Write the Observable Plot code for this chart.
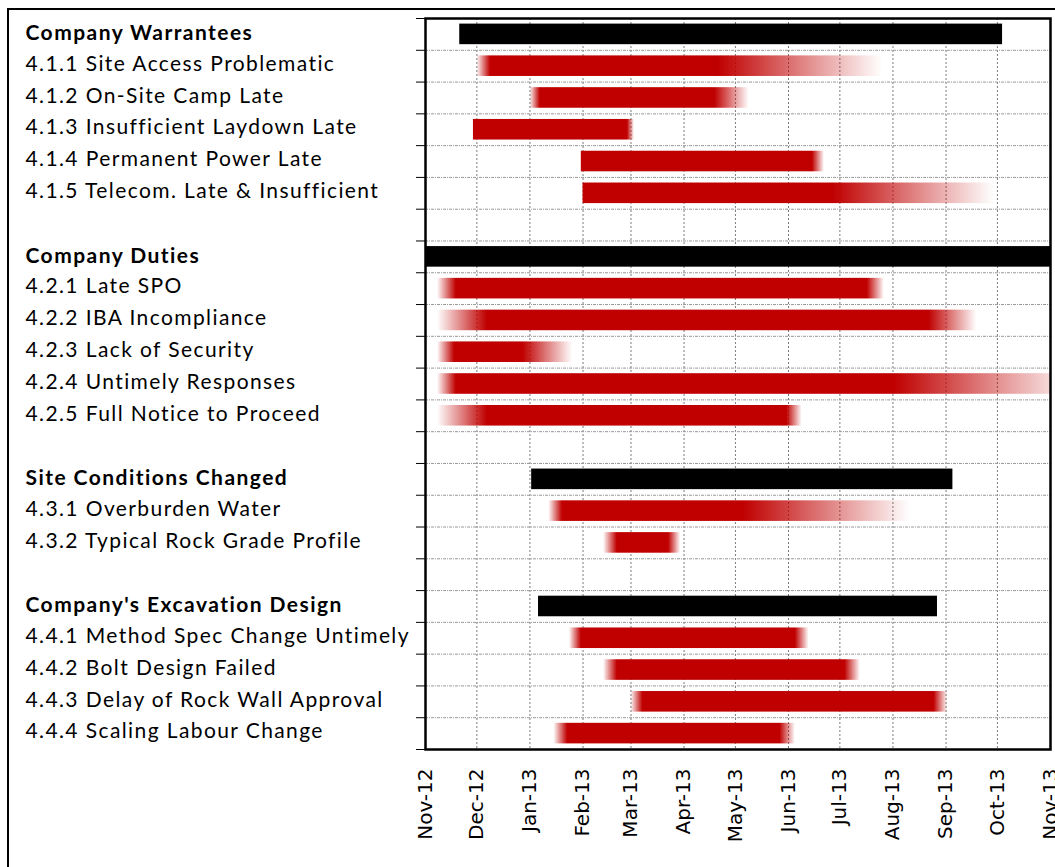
<!DOCTYPE html>
<html>
<head>
<meta charset="utf-8">
<script src="https://cdn.jsdelivr.net/npm/d3@7"></script>
<script src="https://cdn.jsdelivr.net/npm/@observablehq/plot@0.6"></script>
<style>
  html, body { margin: 0; padding: 0; background: #fff; overflow: hidden; }
  #wrap { position: relative; width: 1055px; height: 867px; overflow: hidden; }
  #border { position: absolute; left: 7px; top: 8px; width: 1100px; height: 900px; border: 2px solid #000; pointer-events: none; }
  #chart svg { display: block; background: none; }
  /* row labels are set a little loose, like the spreadsheet's */
  #chart svg g[font-family="Lato"] text { letter-spacing: 1.4px; }
  #chart svg g[font-family="Lato"][font-weight="bold"] text { letter-spacing: 1.45px; }
</style>
</head>
<body>
<div id="wrap"><div id="chart"></div><div id="border"></div></div>
<script>
// Schedule rows, top to bottom ("" = spacer row)
const rows = [
  "Company Warrantees",
  "4.1.1 Site Access Problematic",
  "4.1.2 On-Site Camp Late",
  "4.1.3 Insufficient Laydown Late",
  "4.1.4 Permanent Power Late",
  "4.1.5 Telecom. Late & Insufficient",
  "",
  "Company Duties",
  "4.2.1 Late SPO",
  "4.2.2 IBA Incompliance",
  "4.2.3 Lack of Security",
  "4.2.4 Untimely Responses",
  "4.2.5 Full Notice to Proceed",
  "",
  "Site Conditions Changed",
  "4.3.1 Overburden Water",
  "4.3.2 Typical Rock Grade Profile",
  "",
  "Company's Excavation Design",
  "4.4.1 Method Spec Change Untimely",
  "4.4.2 Bolt Design Failed",
  "4.4.3 Delay of Rock Wall Approval",
  "4.4.4 Scaling Labour Change"
];

// Summary (black) bars for each heading
const groups = ["Company Warrantees", "Company Duties", "Site Conditions Changed", "Company's Excavation Design"];
const groupStart = ["2012-11-21", "2012-11-01", "2013-01-02", "2013-01-06"];
const groupEnd   = ["2013-10-04", "2013-11-01", "2013-09-05", "2013-08-27"];

// Issue (red) bars: fade-in start, full-strength from, full-strength until, fade-out end
const issues = [
  "4.1.1 Site Access Problematic", "4.1.2 On-Site Camp Late", "4.1.3 Insufficient Laydown Late",
  "4.1.4 Permanent Power Late", "4.1.5 Telecom. Late & Insufficient",
  "4.2.1 Late SPO", "4.2.2 IBA Incompliance", "4.2.3 Lack of Security",
  "4.2.4 Untimely Responses", "4.2.5 Full Notice to Proceed",
  "4.3.1 Overburden Water", "4.3.2 Typical Rock Grade Profile",
  "4.4.1 Method Spec Change Untimely", "4.4.2 Bolt Design Failed",
  "4.4.3 Delay of Rock Wall Approval", "4.4.4 Scaling Labour Change"
];
const fadeIn   = ["2012-12-01", "2013-01-01", "2012-11-29", "2013-01-31", "2013-02-01",
                  "2012-11-08", "2012-11-08", "2012-11-08", "2012-11-08", "2012-11-08",
                  "2013-01-12", "2013-02-13",
                  "2013-01-24", "2013-02-13", "2013-03-01", "2013-01-15"];
const fullFrom = ["2012-12-09", "2013-01-07", "2012-11-29", "2013-01-31", "2013-02-01",
                  "2012-11-19", "2012-12-07", "2012-11-18", "2012-11-19", "2012-12-07",
                  "2013-01-20", "2013-02-21",
                  "2013-01-31", "2013-02-21", "2013-03-08", "2013-01-23"];
const fullTo   = ["2013-04-21", "2013-04-19", "2013-02-27", "2013-06-15", "2013-06-27",
                  "2013-07-17", "2013-08-22", "2012-12-28", "2013-08-02", "2013-05-31",
                  "2013-05-06", "2013-03-23",
                  "2013-06-05", "2013-07-04", "2013-08-25", "2013-05-27"];
const fadeOut  = ["2013-07-26", "2013-05-09", "2013-03-03", "2013-06-22", "2013-09-29",
                  "2013-07-27", "2013-09-19", "2013-01-26", "2013-11-17", "2013-06-09",
                  "2013-08-11", "2013-03-30",
                  "2013-06-13", "2013-07-13", "2013-09-02", "2013-06-05"];

// Monthly axis ticks
const monthTicks = ["2012-11-01", "2012-12-01", "2013-01-01", "2013-02-01", "2013-03-01", "2013-04-01",
                    "2013-05-01", "2013-06-01", "2013-07-01", "2013-08-01", "2013-09-01", "2013-10-01", "2013-11-01"];

const RED = "#C00000";
const parse = d3.utcParse("%Y-%m-%d");
const rowOf = (label) => rows.indexOf(label);

const months = monthTicks.map(parse);
const summary = groups.map((g, i) => ({row: rowOf(g), start: parse(groupStart[i]), end: parse(groupEnd[i])}));
const bars = issues.map((label, i) => ({
  id: `fade-${i}`,
  row: rowOf(label),
  a: parse(fadeIn[i]), b: parse(fullFrom[i]), c: parse(fullTo[i]), d: parse(fadeOut[i])
}));
const labelRows = rows.map((text, i) => ({text, row: i})).filter((r) => r.text !== "");
const headings = labelRows.filter((r) => groups.includes(r.text));
const items = labelRows.filter((r) => !groups.includes(r.text));

const inset = 5.6;

const svg = Plot.plot({
  width: 1055,
  height: 867,
  marginLeft: 425,
  marginRight: 5,
  marginTop: 18,
  marginBottom: 118,
  style: {fontFamily: "DejaVu Sans", fontSize: "20px", color: "#000", background: "none"},
  color: {type: "identity"},
  x: {
    type: "utc",
    domain: [months[0], months[months.length - 1]],
    ticks: months,
    tickFormat: d3.utcFormat("%b-%y"),
    tickRotate: -90,
    tickSize: 0,
    tickPadding: 19,
    label: null
  },
  y: {
    domain: [0, rows.length],
    reverse: true,
    ticks: d3.range(0, rows.length + 1),
    tickFormat: () => "",
    tickSize: 9,
    label: null
  },
  marks: [
    // dotted grid
    Plot.ruleX(months.slice(1, -1), {stroke: "#7a7a7a", strokeDasharray: "2,2", strokeWidth: 1}),
    Plot.ruleY(d3.range(1, rows.length), {stroke: "#999", strokeDasharray: "3,1,1,1", strokeWidth: 1}),
    // summary bars
    Plot.rect(summary, {
      x1: "start", x2: "end",
      y1: "row", y2: (d) => d.row + 1,
      insetTop: inset, insetBottom: inset,
      fill: "#000", clip: true
    }),
    // issue bars with faded ends
    Plot.rect(bars, {
      x1: "a", x2: "d",
      y1: "row", y2: (d) => d.row + 1,
      insetTop: inset, insetBottom: inset,
      fill: (d) => `url(#${d.id})`, clip: true
    }),
    // row labels
    Plot.text(headings, {
      y: (d) => d.row + 0.5, text: "text",
      frameAnchor: "left", textAnchor: "start", dx: -400, dy: -1,
      fontFamily: "Lato", fontSize: 21, fontWeight: "bold", fill: "#000"
    }),
    Plot.text(items, {
      y: (d) => d.row + 0.5, text: "text",
      frameAnchor: "left", textAnchor: "start", dx: -400, dy: -2,
      fontFamily: "Lato", fontSize: 21, fill: "#000"
    }),
    Plot.frame({stroke: "#000", strokeWidth: 2.5})
  ]
});

// One horizontal gradient per issue bar, stops placed at the full-strength dates
const defs = d3.select(svg).insert("defs", ":first-child");
bars.forEach((bar) => {
  const span = bar.d - bar.a;
  const p = (bar.b - bar.a) / span;
  const q = (bar.c - bar.a) / span;
  const g = defs.append("linearGradient").attr("id", bar.id)
    .attr("x1", 0).attr("x2", 1).attr("y1", 0).attr("y2", 0);
  const stops = [[0, p > 0 ? 0 : 1], [p, 1], [q, 1], [1, q < 1 ? 0 : 1]];
  stops.forEach(([o, op]) => g.append("stop")
    .attr("offset", o).attr("stop-color", RED).attr("stop-opacity", op));
});

document.getElementById("chart").appendChild(svg);
</script>
</body>
</html>
